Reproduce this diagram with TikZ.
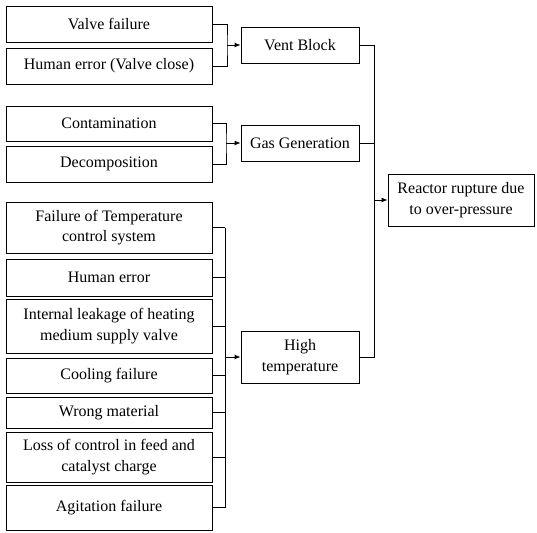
\documentclass[tikz,border=0pt]{standalone}
\usepackage{fontspec}
\setmainfont{Liberation Serif}
\newfontfamily\tnrfont{Liberation Serif}
\usetikzlibrary{arrows.meta}
\begin{document}
\begin{tikzpicture}[x=1pt,y=-1pt,
  every node/.style={font=\tnrfont\fontsize{16}{20.5}\selectfont},
  box/.style={draw=black,line width=0.9pt,rectangle,inner sep=0pt,align=center},
  leftbox/.style={box,minimum width=206pt},
  midbox/.style={box,minimum width=118pt},
  conn/.style={draw=black,line width=0.9pt},
  arr/.style={conn,-{Latex[length=6pt,width=5pt]}}]
\useasboundingbox (0,0) rectangle (537,532);
% left boxes
\node[leftbox,minimum height=36pt] (vf)  at (109,24)    {Valve failure};
\node[leftbox,minimum height=36pt] (he)  at (109,66)    {Human error (Valve close)};
\node[leftbox,minimum height=35pt] (con) at (109,123.5) {Contamination};
\node[leftbox,minimum height=36pt] (dec) at (109,164)   {Decomposition};
\node[leftbox,minimum height=51pt] (ftc) at (109,227.5) {Failure of Temperature\\control system};
\node[leftbox,minimum height=37pt] (he2) at (109,277.5) {Human error};
\node[leftbox,minimum height=54pt] (il)  at (109,326)   {Internal leakage of heating\\medium supply valve};
\node[leftbox,minimum height=35pt] (cf)  at (109,375.5) {Cooling failure};
\node[leftbox,minimum height=31pt] (wm)  at (109,412.5) {Wrong material};
\node[leftbox,minimum height=50pt] (lc)  at (109,457)   {Loss of control in feed and\\catalyst charge};
\node[leftbox,minimum height=45pt] (af)  at (109,507.5) {Agitation failure};
% middle boxes
\node[midbox,minimum height=36pt] (vb) at (300,45)  {Vent Block};
\node[midbox,minimum height=36pt] (gg) at (300,143) {Gas Generation};
\node[midbox,minimum height=52pt] (ht) at (300,357) {High\\temperature};
% final box
\node[box,minimum width=146pt,minimum height=52pt] (rr) at (461,200) {Reactor rupture due\\to over-pressure};
% junctions
\coordinate (b1) at (227,45);
\coordinate (b2) at (226,143);
\coordinate (b3) at (225,357);
\coordinate (rj) at (374,200);
% vent block bracket
\draw[conn] (vf.east) -| (b1) |- (he.east);
\draw[arr] (b1) -- (vb.west);
% gas generation bracket
\draw[conn] (con.east) -| (b2) |- (dec.east);
\draw[arr] (b2) -- (gg.west);
% high temperature bracket
\draw[conn] (ftc.east -| b3) -- (af.east -| b3);
\foreach \n in {ftc,he2,il,cf,wm,lc,af} {\draw[conn] (\n.east) -- (\n.east -| b3);}
\draw[arr] (b3) -- (ht.west);
% right collector
\draw[conn] (vb.east) -| (rj);
\draw[conn] (ht.east) -| (rj);
\draw[conn] (gg.east) -- (gg.east -| rj);
\draw[arr] (rj) -- (rr.west);
\end{tikzpicture}
\end{document}
